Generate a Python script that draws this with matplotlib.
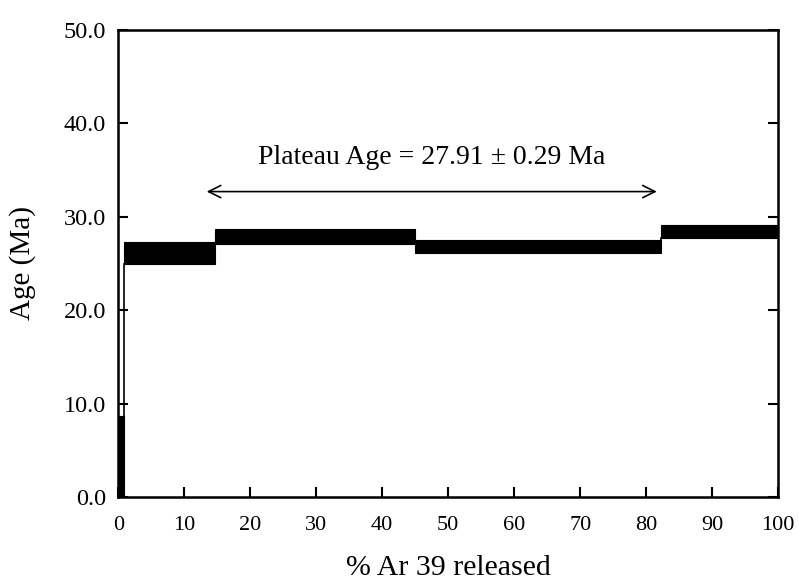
import matplotlib
matplotlib.use("Agg")
import matplotlib.pyplot as plt

plt.rcParams['font.family'] = ['Liberation Serif', 'DejaVu Serif']

# step boundaries (% 39Ar released) and apparent ages (Ma) with 1-sigma errors
step_edges = [0, 0.8, 14.6, 45.0, 82.3, 100]
step_age = [4.35, 26.1, 27.9, 26.8, 28.4]
step_err = [4.35, 1.2, 0.8, 0.7, 0.7]

plateau_from = 13.4
plateau_to = 81.6
plateau_y = 32.7
plateau_label = 'Plateau Age = 27.91 \u00b1 0.29 Ma'

x_ticks = [0, 10, 20, 30, 40, 50, 60, 70, 80, 90, 100]
y_ticks = [0, 10, 20, 30, 40, 50]

fig = plt.figure(figsize=(7.99, 5.82), dpi=100)
ax = fig.add_axes([0.148, 1 - 497 / 582, 0.826, 467 / 582])

lefts = step_edges[:-1]
widths = [b - a for a, b in zip(step_edges[:-1], step_edges[1:])]
lows = [a - e for a, e in zip(step_age, step_err)]
highs = [a + e for a, e in zip(step_age, step_err)]

ax.bar(lefts, [h - l for h, l in zip(highs, lows)], bottom=lows, width=widths,
       align='edge', color='black', edgecolor='black', linewidth=0.8)

# vertical connectors between steps that do not overlap
for i in range(len(step_age) - 1):
    x = step_edges[i + 1]
    if highs[i] < lows[i + 1]:
        ax.plot([x, x], [highs[i], lows[i + 1]], color='black', lw=1.2)
    elif lows[i] > highs[i + 1]:
        ax.plot([x, x], [highs[i + 1], lows[i]], color='black', lw=1.2)

ax.annotate('', xy=(plateau_from, plateau_y), xytext=(plateau_to, plateau_y),
            arrowprops=dict(arrowstyle='<->', color='black', lw=1.2,
                            mutation_scale=22, shrinkA=0, shrinkB=0))
ax.text(47.5, 36.4, plateau_label, ha='center', va='center', fontsize=20)

ax.set_xlim(0, 100)
ax.set_ylim(0, 50)
ax.set_xticks(x_ticks)
ax.set_yticks(y_ticks)
ax.set_yticklabels([f'{v:.1f}' for v in y_ticks])
ax.tick_params(direction='in', length=7, width=1.5, labelsize=16)
ax.tick_params(axis='x', pad=14)
ax.tick_params(axis='y', pad=9, right=True, labelsize=17.5)
for s in ax.spines.values():
    s.set_linewidth(1.8)

ax.set_xlabel('% Ar 39 released', fontsize=21.5, labelpad=14)
ax.set_ylabel('Age (Ma)', fontsize=21, labelpad=20)

fig.savefig('out.png', dpi=100)
